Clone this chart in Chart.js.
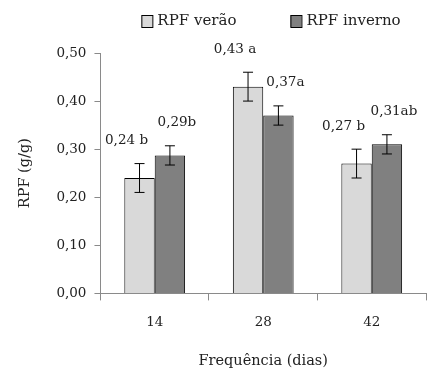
<!DOCTYPE html>
<html>
<head>
<meta charset="utf-8">
<script src="https://cdn.jsdelivr.net/npm/chart.js@4"></script>
<style>
  body { margin: 0; background: #fff; }
  #c { display: block; }
</style>
</head>
<body>
<canvas id="c" width="446" height="384"></canvas>
<script>
// values
var dias = ['14', '28', '42'];
var rpfVerao = [0.24, 0.43, 0.27];
var rpfInverno = [0.287, 0.37, 0.31];
var erroVerao = [0.03, 0.03, 0.03];
var erroInverno = [0.02, 0.02, 0.02];
var rotuloVerao = ['0,24 b', '0,43 a', '0,27 b'];
var rotuloInverno = ['0,29b', '0,37a', '0,31ab'];
var yTicks = [0, 0.1, 0.2, 0.3, 0.4, 0.5];

var fonte = 'DejaVu Serif';
var cinzaEixo = '#8a8a8a';

// error bars + letters above each bar
var errorBars = {
    id: 'errorBars',
    afterDatasetsDraw: function(chart) {
        var ctx = chart.ctx;
        var y = chart.scales.y;
        var erros = [erroVerao, erroInverno];
        var rotulos = [rotuloVerao, rotuloInverno];
        var dx = [-13, 7];
        ctx.save();
        chart.data.datasets.forEach(function(ds, d) {
            var meta = chart.getDatasetMeta(d);
            meta.data.forEach(function(bar, i) {
                var v = ds.data[i];
                var top = y.getPixelForValue(v + erros[d][i]);
                var bot = y.getPixelForValue(v - erros[d][i]);
                ctx.strokeStyle = '#000';
                ctx.lineWidth = 1;
                ctx.beginPath();
                ctx.moveTo(bar.x, top); ctx.lineTo(bar.x, bot);
                ctx.moveTo(bar.x - 5, top); ctx.lineTo(bar.x + 5, top);
                ctx.moveTo(bar.x - 5, bot); ctx.lineTo(bar.x + 5, bot);
                ctx.stroke();

                ctx.fillStyle = '#222';
                ctx.font = '13.5px "' + fonte + '"';
                ctx.textAlign = 'center';
                ctx.textBaseline = 'middle';
                ctx.fillText(rotulos[d][i], bar.x + dx[d], top - 23);
            });
        });
        ctx.restore();
    }
};

// legend drawn by hand so it can sit right of centre like the original
var legenda = {
    id: 'legenda',
    afterDraw: function(chart) {
        var ctx = chart.ctx;
        var ds = chart.data.datasets;
        ctx.save();
        ctx.font = '15px "' + fonte + '"';
        ctx.textBaseline = 'middle';
        ctx.textAlign = 'left';
        var box = 11, gap = 5, spacing = 54;
        var widths = ds.map(function(d) { return ctx.measureText(d.label).width; });
        var total = box * 2 + gap * 2 + widths[0] + widths[1] + spacing;
        var x = 271 - total / 2;
        var yc = 21;
        ds.forEach(function(d, i) {
            ctx.fillStyle = d.backgroundColor;
            ctx.fillRect(x, yc - 6, box, 12);
            ctx.strokeStyle = '#000';
            ctx.lineWidth = 1;
            ctx.strokeRect(x + 0.5, yc - 5.5, box, 12);
            ctx.fillStyle = '#222';
            ctx.fillText(d.label, x + box + gap, yc);
            x += box + gap + widths[i] + spacing;
        });
        ctx.restore();
    }
};

new Chart(document.getElementById('c'), {
    type: 'bar',
    data: {
        labels: dias,
        datasets: [{
            label: 'RPF verão',
            data: rpfVerao,
            backgroundColor: '#d9d9d9',
            borderColor: '#000',
            borderWidth: 1
        }, {
            label: 'RPF inverno',
            data: rpfInverno,
            backgroundColor: '#808080',
            borderColor: '#000',
            borderWidth: 1
        }]
    },
    options: {
        responsive: false,
        animation: false,
        layout: { padding: { left: 13, right: 20, top: 53, bottom: 14 } },
        datasets: {
            bar: { categoryPercentage: 0.56, barPercentage: 1.0 }
        },
        plugins: {
            tooltip: { enabled: false },
            legend: { display: false }
        },
        scales: {
            x: {
                grid: {
                    display: true,
                    drawOnChartArea: false,
                    drawTicks: true,
                    tickLength: 7,
                    color: cinzaEixo,
                    offset: true
                },
                border: { color: cinzaEixo },
                ticks: {
                    color: '#222',
                    padding: 14,
                    font: { family: fonte, size: 13.5 }
                },
                title: {
                    display: true,
                    text: 'Frequência (dias)',
                    color: '#222',
                    font: { family: fonte, size: 14.5 },
                    padding: { top: 8, bottom: 0 }
                }
            },
            y: {
                min: 0,
                max: 0.5,
                afterBuildTicks: function(axis) {
                    axis.ticks = yTicks.map(function(v) { return { value: v }; });
                },
                grid: {
                    display: true,
                    drawOnChartArea: false,
                    drawTicks: true,
                    tickLength: 6,
                    color: cinzaEixo
                },
                border: { color: cinzaEixo },
                ticks: {
                    color: '#222',
                    padding: 8,
                    font: { family: fonte, size: 13.5 },
                    callback: function(v) { return v.toFixed(2).replace('.', ','); }
                },
                title: {
                    display: true,
                    text: 'RPF (g/g)',
                    color: '#222',
                    font: { family: fonte, size: 14.5 },
                    padding: { bottom: 14 }
                }
            }
        }
    },
    plugins: [errorBars, legenda]
});
</script>
</body>
</html>
